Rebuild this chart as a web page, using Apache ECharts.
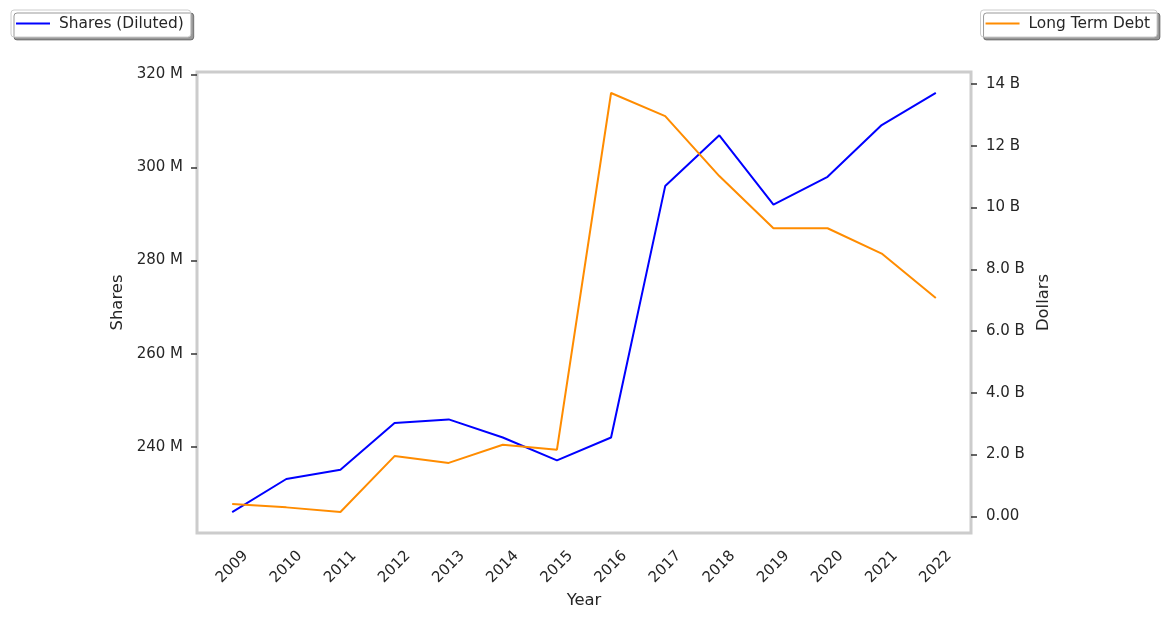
<!DOCTYPE html>
<html>
<head>
<meta charset="utf-8">
<script src="https://cdn.jsdelivr.net/npm/echarts@6/dist/echarts.min.js"></script>
<style>
html,body{margin:0;padding:0;background:#fff;}
#chart{width:1165px;height:618px;}
</style>
</head>
<body>
<div id="chart"></div>
<script>
const years = [2009,2010,2011,2012,2013,2014,2015,2016,2017,2018,2019,2020,2021,2022];
const sharesM = [226,233.1,235.1,245.1,245.9,242,237.1,242,296,306.9,292,298,309.1,316];
const debtB = [0.40,0.29,0.14,1.95,1.73,2.32,2.16,13.71,12.96,11.02,9.33,9.33,8.51,7.07];
const leftTicks = [240,260,280,300,320];
const rightTicks = [0,2,4,6,8,10,12,14];

const font = 'DejaVu Sans';
const txt = '#262626';

function fmtRight(v){
  if (v === 0) return '0.00';
  if (v < 10) return v.toFixed(1) + ' B';
  return v.toFixed(0) + ' B';
}

const legendBase = {
  orient:'horizontal', top:10,
  backgroundColor:'#fff', borderColor:'#cccccc', borderWidth:1, borderRadius:3,
  shadowColor:'rgba(0,0,0,0.4)', shadowOffsetX:3, shadowOffsetY:3, shadowBlur:0,
  padding:[6,7,6,5], itemWidth:34, itemHeight:2, itemGap:10, icon:'rect',
  textStyle:{fontFamily:font, fontSize:15.4, color:txt, padding:[0,0,0,4]}
};

const chart = echarts.init(document.getElementById('chart'), null, {renderer:'canvas'});
chart.setOption({
  animation:false,
  textStyle:{fontFamily:font, color:txt},
  grid:{left:197, right:194, top:72, bottom:85, show:true, borderColor:'#cccccc', borderWidth:3, backgroundColor:'#fff'},
  legend:[
    Object.assign({}, legendBase, {data:['Shares (Diluted)'], left:11}),
    Object.assign({}, legendBase, {data:['Long Term Debt'], right:8})
  ],
  xAxis:{
    type:'value', min:2008.35, max:2022.65,
    name:'Year', nameLocation:'middle', nameGap:58,
    nameTextStyle:{fontFamily:font, fontSize:16.4, color:txt},
    axisLine:{show:false}, axisTick:{show:false}, splitLine:{show:false},
    axisLabel:{customValues:years, rotate:45, align:'center', verticalAlign:'middle', margin:34,
      fontFamily:font, fontSize:15, color:txt, formatter:v=>String(v)}
  },
  yAxis:[
    {type:'value', position:'left', min:221.5, max:320.5,
     name:'Shares', nameLocation:'middle', nameGap:62, nameRotate:90,
     nameTextStyle:{fontFamily:font, fontSize:16.4, color:txt},
     axisLine:{show:false}, splitLine:{show:false},
     axisTick:{show:true, customValues:leftTicks, length:6, lineStyle:{color:'#333', width:1.5}},
     axisLabel:{customValues:leftTicks, margin:14, fontFamily:font, fontSize:15, color:txt,
       formatter:v=>v.toFixed(0)+' M'}},
    {type:'value', position:'right', min:-0.54, max:14.39,
     name:'Dollars', nameLocation:'middle', nameGap:58, nameRotate:90,
     nameTextStyle:{fontFamily:font, fontSize:16.4, color:txt},
     axisLine:{show:false}, splitLine:{show:false},
     axisTick:{show:true, customValues:rightTicks, length:6, lineStyle:{color:'#333', width:1.5}},
     axisLabel:{customValues:rightTicks, margin:15, fontFamily:font, fontSize:15, color:txt,
       formatter:fmtRight}}
  ],
  series:[
    {name:'Shares (Diluted)', type:'line', yAxisIndex:0, showSymbol:false, symbol:'none',
     data:years.map((y,i)=>[y, sharesM[i]]),
     lineStyle:{color:'#0000ff', width:2}, itemStyle:{color:'#0000ff'}},
    {name:'Long Term Debt', type:'line', yAxisIndex:1, showSymbol:false, symbol:'none',
     data:years.map((y,i)=>[y, debtB[i]]),
     lineStyle:{color:'#ff8c00', width:2}, itemStyle:{color:'#ff8c00'}}
  ]
});
</script>
</body>
</html>
